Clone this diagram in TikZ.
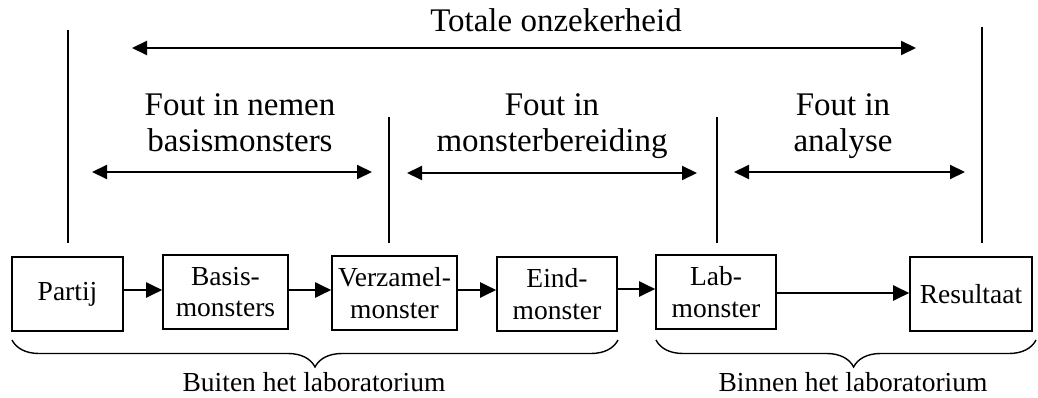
\documentclass[tikz,border=0pt]{standalone}
\usepackage{fontspec}
\setmainfont{Liberation Serif}
\usetikzlibrary{arrows.meta,decorations.pathreplacing}

\begin{document}
\begin{tikzpicture}[x=1pt,y=-1pt,
  box/.style={draw,line width=1.6pt,minimum width=#1,minimum height=74pt,
    inner sep=0pt,align=center,font=\fontsize{27.5}{31.5}\selectfont},
  flow/.style={line width=2pt,-{Triangle[length=16pt,width=15pt]}},
  span/.style={line width=2pt,
    {Triangle[length=15pt,width=14pt]}-{Triangle[length=15pt,width=14pt]}},
  divider/.style={line width=1.6pt},
  toplabel/.style={inner sep=0pt,align=center,font=\fontsize{33}{36.5}\selectfont},
  sidelabel/.style={inner sep=0pt,font=\fontsize{27.5}{31}\selectfont,anchor=base},
  curly/.style={line width=1.4pt,decorate,
    decoration={brace,mirror,amplitude=27pt,aspect=#1}},
  curly/.default=0.5]

\useasboundingbox (0,0) rectangle (1038,398);

% process chain
\node[box=111pt] (partij)    at (67.5,294)  {Partij};
\node[box=125pt] (basis)     at (225.5,292) {Basis-\\monsters};
\node[box=125pt] (verzamel)  at (394.5,293) {Verzamel-\\monster};
\node[box=120pt] (eind)      at (557,294)   {Eind-\\monster};
\node[box=120pt] (lab)       at (716,292)   {Lab-\\monster};
\node[box=122pt] (resultaat) at (971,294)   {Resultaat};

\draw[flow] (partij.east |- 0,290)   -- (basis.west |- 0,290);
\draw[flow] (basis.east |- 0,290)    -- (verzamel.west |- 0,290);
\draw[flow] (verzamel.east |- 0,290) -- (eind.west |- 0,290);
\draw[flow] (eind.east |- 0,289)     -- (lab.west |- 0,289);
\draw[flow] (lab.east |- 0,293)      -- (resultaat.west |- 0,293);

% vertical stage boundaries
\coordinate (d1top) at (68,30);   \coordinate (d1bot) at (68,243);
\coordinate (d2top) at (389,117); \coordinate (d2bot) at (389,243);
\coordinate (d3top) at (717,117); \coordinate (d3bot) at (717,243);
\coordinate (d4top) at (982,27);  \coordinate (d4bot) at (982,243);
\draw[divider] (d1top) -- (d1bot);
\draw[divider] (d2top) -- (d2bot);
\draw[divider] (d3top) -- (d3bot);
\draw[divider] (d4top) -- (d4bot);

% error spans
\coordinate (tL) at (132,48);  \coordinate (tR) at (916,48);
\coordinate (aL) at (92,172);  \coordinate (aR) at (372,172);
\coordinate (bL) at (407,173); \coordinate (bR) at (697,173);
\coordinate (cL) at (734,172); \coordinate (cR) at (965,172);
\draw[span] (tL) -- (tR);
\draw[span] (aL) -- (aR);
\draw[span] (bL) -- (bR);
\draw[span] (cL) -- (cR);

\node[toplabel,anchor=base]  (totale) at (556,32) {Totale onzekerheid};
\node[toplabel,anchor=north] (fout1)  at (240,93) {Fout in nemen\\basismonsters};
\node[toplabel,anchor=north] (fout2)  at (552,93) {Fout in\\monsterbereiding};
\node[toplabel,anchor=north] (fout3)  at (843,93) {Fout in\\analyse};

% location braces
\coordinate (bu1) at (12,340);  \coordinate (bu2) at (618,340);
\coordinate (bi1) at (656,340); \coordinate (bi2) at (1036,340);
\draw[curly] (bu1) -- (bu2);
\draw[curly=0.52] (bi1) -- (bi2);
\node[sidelabel] (buiten) at (314,391) {Buiten het laboratorium};
\node[sidelabel] (binnen) at (853,391) {Binnen het laboratorium};

\end{tikzpicture}
\end{document}
